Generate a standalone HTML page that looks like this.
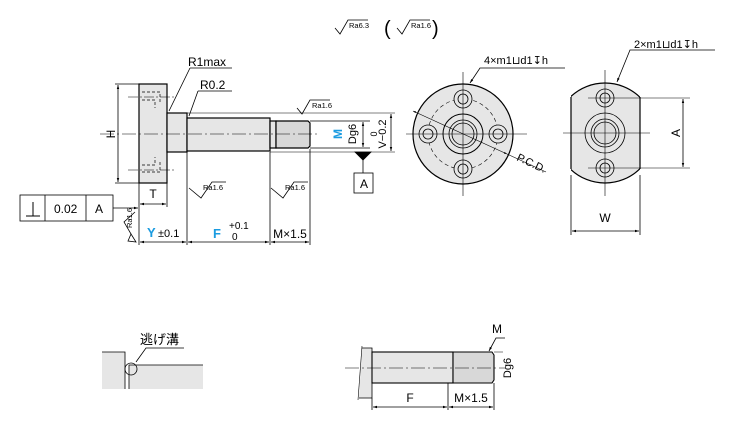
<!DOCTYPE html>
<html><head><meta charset="utf-8"><style>
html,body{margin:0;padding:0;background:#fff;}
svg{display:block;font-family:"Liberation Sans","Noto Sans CJK JP",sans-serif;}
</style></head><body>
<svg width="732" height="432" viewBox="0 0 732 432" xmlns="http://www.w3.org/2000/svg">
<defs>
<marker id="a" viewBox="0 0 10 10" refX="10" refY="5" markerWidth="7" markerHeight="5" orient="auto-start-reverse"><path d="M0,2 L10,5 L0,8 z" fill="#000"/></marker>
</defs>
<g stroke="#000" stroke-width="0.8" fill="none">
<rect x="139" y="84" width="28" height="99" fill="#e6e6e6" stroke-width="1.2"/>
<rect x="167" y="113" width="20" height="39" fill="#e6e6e6" stroke-width="1.2"/>
<rect x="187" y="118" width="83" height="33" fill="#e6e6e6" stroke-width="1.2"/>
<rect x="270" y="121" width="6" height="27" fill="#e6e6e6" stroke-width="1.2"/>
<path d="M276,121 H308 L310,123 V146 L308,148 H276 Z" fill="#d8d8d8" stroke-width="1.2"/>
<line x1="276" y1="123" x2="276" y2="146"/>
<g stroke-dasharray="3,2" stroke-width="0.7">
<path d="M142,92 H160 V104 M142,100 H155 V108 M142,172 H160 V160 M142,165 H155 V157"/>
</g>
<line x1="100" y1="134" x2="320" y2="134" stroke-dasharray="14,3,2,3" stroke-width="0.6"/>
<line x1="128" y1="97" x2="175" y2="97" stroke-dasharray="10,2,2,2" stroke-width="0.5"/>
<line x1="128" y1="170" x2="175" y2="170" stroke-dasharray="10,2,2,2" stroke-width="0.5"/>
<line x1="115" y1="84" x2="139" y2="84"/><line x1="115" y1="183" x2="139" y2="183"/>
<line x1="118" y1="85" x2="118" y2="182" marker-start="url(#a)" marker-end="url(#a)"/>
<line x1="139" y1="183" x2="139" y2="245"/><line x1="167" y1="183" x2="167" y2="207"/>
<line x1="140" y1="204" x2="166" y2="204" marker-start="url(#a)" marker-end="url(#a)"/>
<line x1="187" y1="152" x2="187" y2="245"/><line x1="270" y1="152" x2="270" y2="245"/><line x1="310" y1="149" x2="310" y2="245"/>
<line x1="140" y1="242" x2="186" y2="242" marker-start="url(#a)" marker-end="url(#a)"/>
<line x1="188" y1="242" x2="269" y2="242" marker-start="url(#a)" marker-end="url(#a)"/>
<line x1="271" y1="242" x2="309" y2="242" marker-start="url(#a)" marker-end="url(#a)"/>
<line x1="310" y1="121" x2="370" y2="121"/><line x1="310" y1="148" x2="370" y2="148"/>
<line x1="187" y1="113" x2="395" y2="113" stroke-width="0.5"/><line x1="270" y1="152" x2="395" y2="152" stroke-width="0.5"/>
<line x1="363" y1="122" x2="363" y2="147" marker-start="url(#a)" marker-end="url(#a)"/>
<line x1="391" y1="114" x2="391" y2="151" marker-start="url(#a)" marker-end="url(#a)"/>
<path d="M355,152 L371,152 L363,160 Z" fill="#000"/>
<line x1="363" y1="160" x2="363" y2="173"/>
<rect x="354" y="173" width="19" height="20"/>
<path d="M190,68 H232 M190,68 L169,111" /><path d="M198,91 H232 M198,91 L189,116"/>
<path d="M297,108 L302,114 L310,100 H330"/>
<path d="M189,188 L201,198 L212,182 H226" /><path d="M271,188 L283,198 L294,182 H308"/>
<path d="M335,28 L340,34 L348,20 H368"/><path d="M397,28 L402,34 L410,20 H430"/>
<path d="M135,212 L124,222 L131,234"/>
<path d="M131,234 L136,242 L128,241 Z" fill="#fff"/>
<rect x="20" y="195" width="93" height="26"/><line x1="45" y1="195" x2="45" y2="221"/><line x1="86" y1="195" x2="86" y2="221"/>
<line x1="26" y1="216" x2="40" y2="216" stroke-width="1"/><line x1="33" y1="202" x2="33" y2="216" stroke-width="1"/>
<line x1="113" y1="208" x2="138" y2="208" marker-end="url(#a)"/>
<circle cx="463" cy="134" r="50" fill="#e6e6e6" stroke-width="1.2"/>
<circle cx="463" cy="134" r="35" stroke-dasharray="4,3" stroke-width="0.6"/>
<circle cx="463" cy="134" r="20" fill="#e6e6e6" stroke-width="1"/>
<circle cx="463" cy="134" r="14"/><circle cx="463" cy="134" r="11" fill="#ddd"/>
<g fill="#e6e6e6">
<circle cx="463" cy="99" r="9"/><circle cx="463" cy="169" r="9"/><circle cx="428" cy="134" r="9"/><circle cx="498" cy="134" r="9"/>
<circle cx="463" cy="99" r="5"/><circle cx="463" cy="169" r="5"/><circle cx="428" cy="134" r="5"/><circle cx="498" cy="134" r="5"/>
</g>
<line x1="406" y1="134" x2="527" y2="134" stroke-width="0.6"/><line x1="463" y1="72" x2="463" y2="196" stroke-width="0.6"/>
<line x1="413" y1="111" x2="507" y2="154" marker-start="url(#a)" marker-end="url(#a)" stroke-width="0.6"/>
<line x1="507" y1="154" x2="546" y2="172" stroke-width="0.6"/>
<path d="M565,68 H480 L470,83" marker-end="url(#a)"/>
<clipPath id="c"><rect x="571" y="70" width="69" height="130"/></clipPath>
<circle cx="605" cy="133" r="50" fill="#e6e6e6" stroke-width="1.2" clip-path="url(#c)"/>
<line x1="571" y1="97" x2="571" y2="169" stroke-width="1.2"/><line x1="640" y1="97" x2="640" y2="169" stroke-width="1.2"/>
<circle cx="605" cy="133" r="20"/><circle cx="605" cy="133" r="14"/><circle cx="605" cy="133" r="11" fill="#ddd"/>
<circle cx="605" cy="98" r="9"/><circle cx="605" cy="168" r="9"/><circle cx="605" cy="98" r="5"/><circle cx="605" cy="168" r="5"/>
<line x1="563" y1="133" x2="650" y2="133" stroke-width="0.6"/><line x1="605" y1="70" x2="605" y2="196" stroke-width="0.6"/>
<line x1="588" y1="98" x2="690" y2="98" stroke-width="0.6"/><line x1="588" y1="168" x2="690" y2="168" stroke-width="0.6"/>
<line x1="683" y1="99" x2="683" y2="167" marker-start="url(#a)" marker-end="url(#a)"/>
<line x1="571" y1="175" x2="571" y2="235"/><line x1="640" y1="175" x2="640" y2="235"/>
<line x1="572" y1="231" x2="639" y2="231" marker-start="url(#a)" marker-end="url(#a)"/>
<path d="M715,50 H630 L617,82" marker-end="url(#a)"/>
<path d="M102,352 H125 V389 H102 Z" fill="#e6e6e6" stroke="none"/>
<path d="M129,365 H203 V389 H129 Z" fill="#e6e6e6" stroke="none"/>
<path d="M102,352 H125 V389 M129,389 V365 H203"/>
<circle cx="131" cy="369" r="6"/>
<path d="M136,362 L146,348 H184"/>
<path d="M362,348 H372 V398 H359" fill="#e6e6e6"/>
<path d="M362,346 L358,400" stroke-width="0.6"/>
<rect x="372" y="352" width="81" height="31" fill="#e6e6e6" stroke-width="1.1"/>
<path d="M453,352 H492 L494,355 V380 L492,383 H453 Z" fill="#d8d8d8" stroke-width="1.1"/>
<line x1="345" y1="368" x2="505" y2="368" stroke-dasharray="14,3,2,3" stroke-width="0.6"/>
<line x1="372" y1="398" x2="372" y2="410"/><line x1="448" y1="383" x2="448" y2="410"/><line x1="494" y1="383" x2="494" y2="410"/>
<line x1="373" y1="407" x2="447" y2="407" marker-start="url(#a)" marker-end="url(#a)"/>
<line x1="449" y1="407" x2="493" y2="407" marker-start="url(#a)" marker-end="url(#a)"/>
<path d="M505,338 H496 L489,351" marker-end="url(#a)"/>
<line x1="494" y1="352" x2="503" y2="352" stroke-width="0.5"/>
</g>
<g font-size="12" fill="#000">
<text x="188" y="66">R1max</text>
<text x="200" y="89">R0.2</text>
<text x="111" y="138" transform="rotate(-90 111 134)" text-anchor="middle">H</text>
<text x="153" y="198" text-anchor="middle">T</text>
<text x="54" y="213">0.02</text>
<text x="99" y="213" text-anchor="middle">A</text>
<text x="364" y="188" text-anchor="middle">A</text>
<text x="147" y="237" fill="#1a9be0" font-weight="bold" font-size="13">Y</text>
<text x="158" y="237" font-size="11">±0.1</text>
<text x="213" y="238" fill="#1a9be0" font-weight="bold" font-size="13">F</text>
<text x="229" y="229" font-size="10">+0.1</text>
<text x="232" y="240" font-size="10">0</text>
<text x="290" y="238" text-anchor="middle">M×1.5</text>
<text x="338" y="134" transform="rotate(-90 338 134)" text-anchor="middle" fill="#1a9be0" font-weight="bold" dy="4">M</text>
<text x="352" y="134" transform="rotate(-90 352 134)" text-anchor="middle" dy="4" font-size="11">Dg6</text>
<text x="373" y="134" transform="rotate(-90 373 134)" text-anchor="middle" dy="4" font-size="9">0</text>
<text x="382" y="134" transform="rotate(-90 382 134)" text-anchor="middle" dy="4" font-size="11">V−0.2</text>
<text x="484" y="64" font-size="11">4×m1⊔d1↧h</text>
<text x="634" y="48" font-size="11">2×m1⊔d1↧h</text>
<text x="516" y="160" font-size="11" transform="rotate(25 516 160)">P.C.D.</text>
<text x="676" y="133" transform="rotate(-90 676 133)" text-anchor="middle" dy="4">A</text>
<text x="605" y="222" text-anchor="middle">W</text>
<text x="140" y="344" font-size="13">逃げ溝</text>
<text x="410" y="402" text-anchor="middle">F</text>
<text x="471" y="402" text-anchor="middle">M×1.5</text>
<text x="497" y="333" text-anchor="middle">M</text>
<text x="507" y="368" transform="rotate(-90 507 368)" text-anchor="middle" dy="4" font-size="11">Dg6</text>
<text x="384" y="35" font-size="20">(</text><text x="432" y="35" font-size="20">)</text>
</g>
<g font-size="7.5" fill="#000">
<text x="312" y="108">Ra1.6</text>
<text x="203" y="190">Ra1.6</text><text x="285" y="190">Ra1.6</text>
<text x="349" y="28">Ra6.3</text><text x="411" y="28">Ra1.6</text>
<text x="132" y="228" transform="rotate(-90 132 228)">Ra1.6</text>
</g>
</svg>
</body></html>
